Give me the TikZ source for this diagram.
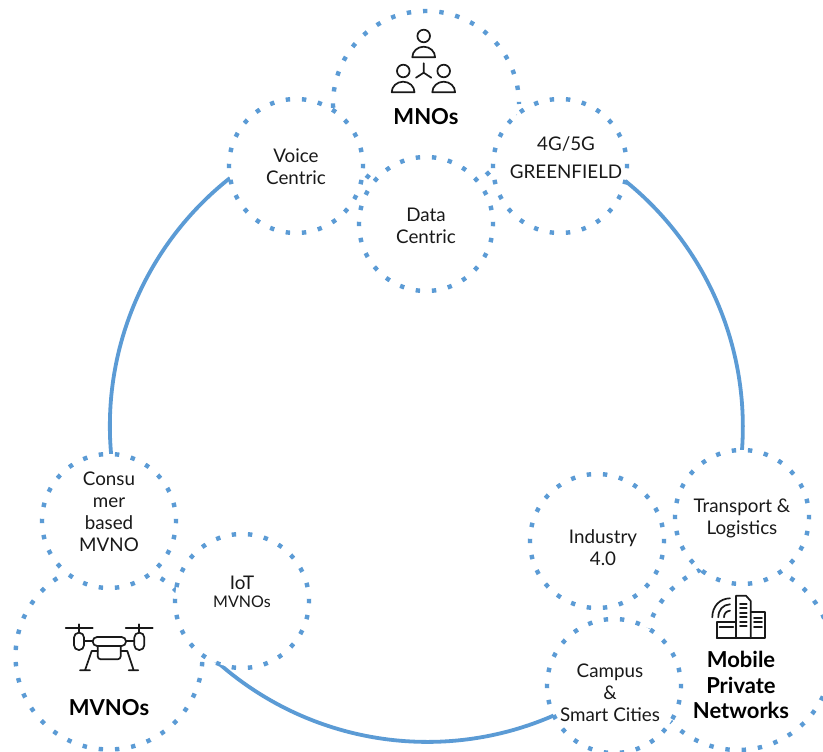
\documentclass[tikz,border=0pt]{standalone}
\usepackage{fontspec}
\setmainfont{Lato}
\definecolor{ringblue}{HTML}{5B9BD5}
\tikzset{
  x=1pt,y=-1pt,
  bigarc/.style={draw=ringblue,line width=3.8pt},
  dotring/.style={circle,draw=ringblue,fill=white,line width=4.4pt,inner sep=0pt},
  small/.style={dotring,minimum size=134pt,dash pattern=on 4.4pt off 11.79pt,dash phase=2.2pt},
  large/.style={dotring,minimum size=187pt,dash pattern=on 4.4pt off 11.92pt,dash phase=2.2pt},
  straddle/.style={dash phase=10.36pt},
  txt/.style={inner sep=0pt,align=center,font=\fontsize{18.8}{22}\selectfont,text=black!90},
  head/.style={inner sep=0pt,align=center,font=\fontsize{22}{25.5}\selectfont\bfseries,text=black},
  icon/.style={draw=black!90,line width=1.7pt,line join=round,line cap=round},
}
\begin{document}
\begin{tikzpicture}
\useasboundingbox (0,0) rectangle (823,752);
\fill[white] (0,0) rectangle (823,752);
% connector ends
\coordinate (a1) at (230,178);
\coordinate (b1) at (215,660);
\coordinate (c1) at (742,450);
\draw[bigarc] (a1) arc[start angle=231.7,end angle=174.8,radius=316];
\draw[bigarc] (b1) arc[start angle=132.2,end angle=65.9,radius=316];
\draw[bigarc] (c1) arc[start angle=4.2,end angle=-51.1,radius=316];
% rings
\node[large,minimum size=186pt] (mno) at (426,104) {};
\node[small] (voice) at (296,166) {};
\node[small] (g45) at (560,166) {};
\node[small] (data) at (426,224) {};
\node[large,straddle] (mvno) at (109,656) {};
\node[small] (consumer) at (109,521) {};
\node[small] (iot) at (242,601) {};
\node[large,straddle,minimum size=188pt] (mpn) at (738,656) {};
\node[small] (transport) at (742,517) {};
\node[small] (industry) at (597,541) {};
\node[small] (campus) at (614,686) {};
% labels
\node[head] (lmno) at (426,117) {MNOs};
\node[txt] (lvoice) at (296,167) {Voice\\Centric};
\node[txt] (ldata) at (426,225.5) {Data\\Centric};
\node[txt] (lg45) at (566,158) {4G/5G\\[6pt]GREENFIELD};
\node[txt] (lconsumer) at (109,511.5) {Consu\\mer\\based\\MVNO};
\node[txt] (liot) at (242,592) {IoT\\[-4pt]{\fontsize{16}{18}\selectfont MVNOs}};
\node[head] (lmvno) at (109,708) {MVNOs};
\node[head] (lmpn) at (741,685) {Mobile\\Private\\Networks};
\node[txt] (ltransport) at (742,518.5) {Transport \&\\Logistics};
\node[txt] (lind) at (603,548) {Industry\\4.0};
\node[txt] (lcampus) at (610,693) {Campus\\\&\\Smart Cities};
% MNO icon
\draw[icon] (423.7,36) circle[radius=6.3];
\draw[icon] (403.3,71) circle[radius=6.3];
\draw[icon] (443.7,71) circle[radius=6.3];
\draw[icon] (412.3,57.3) arc[start angle=180,end angle=360,x radius=11.4,y radius=10.6] -- cycle;
\draw[icon] (391.7,92.3) arc[start angle=180,end angle=360,x radius=11.4,y radius=10.6] -- cycle;
\draw[icon] (432.3,92.3) arc[start angle=180,end angle=360,x radius=11.4,y radius=10.6] -- cycle;
\draw[icon] (423.7,63.3) -- (423.7,72.7) (416,77.7) -- (423.7,72.7) -- (431.3,77.7);
% drone icon
\draw[icon] (65.7,627.7) -- (92.7,627.7) (125.7,627.7) -- (152.7,627.7);
\draw[icon] (79.3,624.3) -- (79.3,632.7) (139.3,624.3) -- (139.3,632.7);
\draw[icon,rounded corners=4.8pt] (74,632.7) rectangle (84,650);
\draw[icon,rounded corners=4.8pt] (134.3,632.7) rectangle (144.3,650);
\draw[icon] (84,641.3) -- (92.7,641.3) (126,641.3) -- (134.3,641.3);
\draw[icon,rounded corners=4.4pt] (92.7,637) rectangle (126,646);
\draw[icon,rounded corners=3pt] (97.7,646) -- (97.7,659.3) -- (120.7,659.3) -- (120.7,646);
\draw[icon] (97.7,651) -- (91.7,651) -- (85,670.3) (80,670.3) -- (90,670.3);
\draw[icon] (120.7,651) -- (127.3,651) -- (133.7,670.3) (128.7,670.3) -- (138.3,670.3);
% building icon
\draw[icon] (716.7,621.7) rectangle (736,638.3);
\draw[icon] (736,638.3) -- (736,595.7) -- (746,595.7) -- (750.7,601) -- (750.7,638.3);
\draw[icon] (750.7,612.3) -- (765,612.3) -- (765,638.3) -- (716.7,638.3);
\draw[icon] (719.5,626.7) -- (733.3,626.7);
\foreach \yy in {604,608.3,612.7,617.3,621.7,626} \draw[icon] (740,\yy) -- (746.7,\yy);
\foreach \yy in {618.3,622.3,626.7} \draw[icon] (754,\yy) -- (762,\yy);
\draw[icon] (712.3,617.3) .. controls (712.3,606) and (720,598.5) .. (730,598.3);
\draw[icon] (718.3,617.3) .. controls (718.3,610) and (723,604.5) .. (730,604.3);
\draw[icon] (724,617.3) .. controls (724,613.5) and (726.5,610.9) .. (730,610.7);
\end{tikzpicture}
\end{document}
